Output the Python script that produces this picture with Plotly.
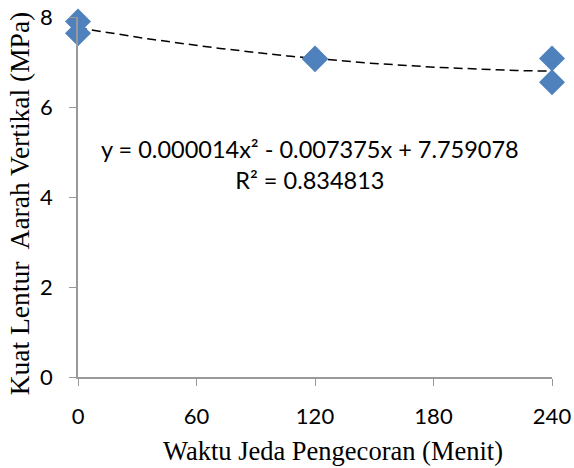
import numpy as np
import plotly.graph_objects as go

waktu = [0, 0, 120, 120, 240, 240]
kuat = [7.90, 7.64, 7.08, 7.06, 7.08, 6.55]
coef = [0.000014, -0.007375, 7.759078]
x_ticks = [0, 60, 120, 180, 240]
y_ticks = [0, 2, 4, 6, 8]

xt = np.linspace(0, 240, 121)
yt = np.polyval(coef, xt)

SANS = "Lato, Open Sans, sans-serif"
SERIF = "Liberation Serif, Times New Roman, serif"

fig = go.Figure()
fig.add_trace(go.Scatter(x=xt, y=yt, mode="lines",
                         line=dict(color="black", width=1.5, dash="9px,5px"),
                         hoverinfo="skip", showlegend=False))
fig.add_trace(go.Scatter(x=waktu, y=kuat, mode="markers",
                         marker=dict(symbol="diamond", size=20, color="#4F81BD"),
                         cliponaxis=False, showlegend=False))

fig.add_annotation(x=0.49, y=0.59, xref="paper", yref="paper",
                   text="y = 0.000014x² - 0.007375x + 7.759078<br>R² = 0.834813",
                   showarrow=False, align="center",
                   font=dict(family=SANS, size=23.5, color="black"))

fig.add_annotation(x=-0.124, y=0.483, xref="paper", yref="paper", textangle=-90,
                   text="Kuat Lentur  Aarah Vertikal (MPa)", showarrow=False,
                   xanchor="center", yanchor="middle",
                   font=dict(family=SERIF, size=27.5, color="black"))
fig.add_annotation(x=0.538, y=-0.205, xref="paper", yref="paper",
                   text="Waktu Jeda Pengecoran (Menit)", showarrow=False,
                   xanchor="center", yanchor="middle",
                   font=dict(family=SERIF, size=26.5, color="black"))

fig.update_layout(
    width=574, height=468,
    margin=dict(l=78, r=22, t=17, b=91),
    paper_bgcolor="white", plot_bgcolor="white",
    xaxis=dict(range=[0, 240], tickvals=x_ticks, showgrid=False, zeroline=False,
               automargin=False,
               showline=True, linecolor="#999999", linewidth=1.5,
               ticks="outside", ticklen=7, tickcolor="#999999",
               ticklabelstandoff=12,
               tickfont=dict(family=SANS, size=22, color="black")),
    yaxis=dict(range=[0, 8], tickvals=y_ticks, showgrid=False, zeroline=False,
               automargin=False,
               showline=True, linecolor="#999999", linewidth=1.5,
               ticks="outside", ticklen=7, tickcolor="#999999",
               ticklabelstandoff=12,
               tickfont=dict(family=SANS, size=22, color="black")),
)

fig.write_html("out.html", config={"displayModeBar": False},
               post_script="document.body.style.margin='0';document.body.style.padding='0';")
